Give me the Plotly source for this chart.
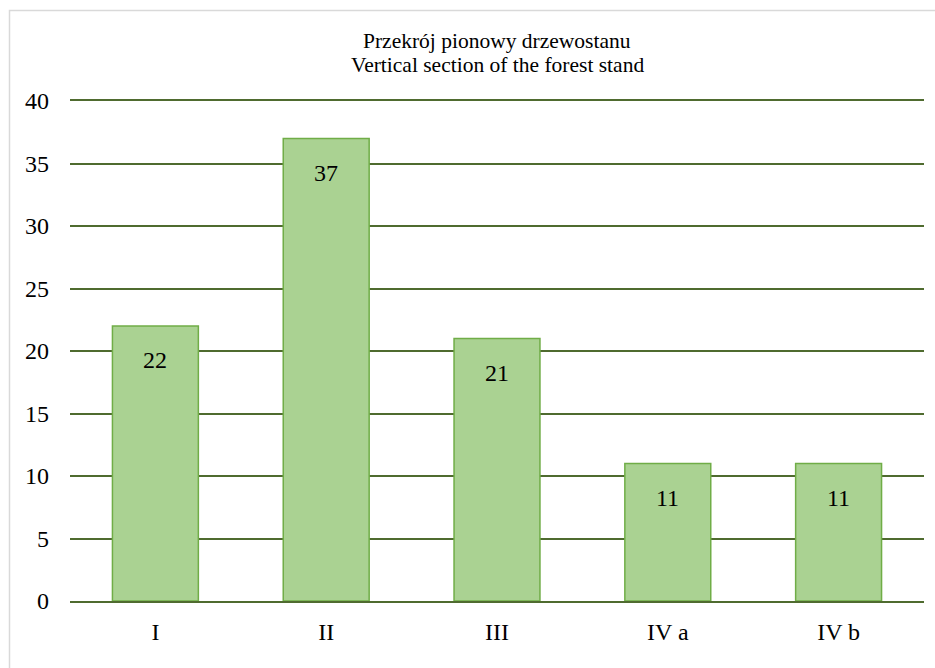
import plotly.graph_objects as go

categories = ["I", "II", "III", "IV a", "IV b"]
values = [22, 37, 21, 11, 11]
y_ticks = [0, 5, 10, 15, 20, 25, 30, 35, 40]
title_lines = ["Przekrój pionowy drzewostanu", "Vertical section of the forest stand"]

FONT = "Liberation Serif"
GRID = "#4f6b2f"

fig = go.Figure(
    go.Bar(
        x=categories,
        y=values,
        marker=dict(color="#aad292", line=dict(color="#70ad47", width=1.5)),
        hoverinfo="skip",
    )
)

annotations = [
    dict(
        x=c, y=v, xref="x", yref="y",
        text=str(v), showarrow=False,
        yanchor="middle", yshift=-34,
        font=dict(family=FONT, size=24, color="#000000"),
    )
    for c, v in zip(categories, values)
]

# two-line chart title, placed in the margin above the plot area
title_y = [(601 - 41) / 500, (601 - 65) / 500]
for line, ty in zip(title_lines, title_y):
    annotations.append(
        dict(
            x=0.5, y=ty, xref="paper", yref="paper",
            text=line, showarrow=False,
            xanchor="center", yanchor="middle",
            font=dict(family=FONT, size=21.5, color="#000000"),
        )
    )

fig.update_layout(
    width=935,
    height=668,
    margin=dict(l=70, r=11, t=101, b=67),
    paper_bgcolor="white",
    plot_bgcolor="white",
    bargap=0.497,
    showlegend=False,
    font=dict(family=FONT, size=24, color="#000000"),
    xaxis=dict(
        showgrid=False,
        showline=True,
        mirror=True,
        linecolor=GRID,
        linewidth=2,
        ticks="",
        tickfont=dict(family=FONT, size=24, color="#000000"),
        ticklabelstandoff=8,
    ),
    yaxis=dict(
        range=[0, 40],
        tickvals=y_ticks,
        showgrid=True,
        gridcolor=GRID,
        gridwidth=2,
        zeroline=False,
        showline=False,
        ticks="",
        ticklabelstandoff=20,
        tickfont=dict(family=FONT, size=24, color="#000000"),
    ),
    annotations=annotations,
    shapes=[
        dict(
            type="rect",
            xref="paper",
            yref="paper",
            x0=(9.5 - 70) / 854,
            x1=(950 - 70) / 854,
            y0=(601 - 690) / 500,
            y1=(601 - 10.5) / 500,
            line=dict(color="#d9d9d9", width=1.5),
            fillcolor="rgba(0,0,0,0)",
            layer="above",
        )
    ],
)

fig.write_html("out.html")
